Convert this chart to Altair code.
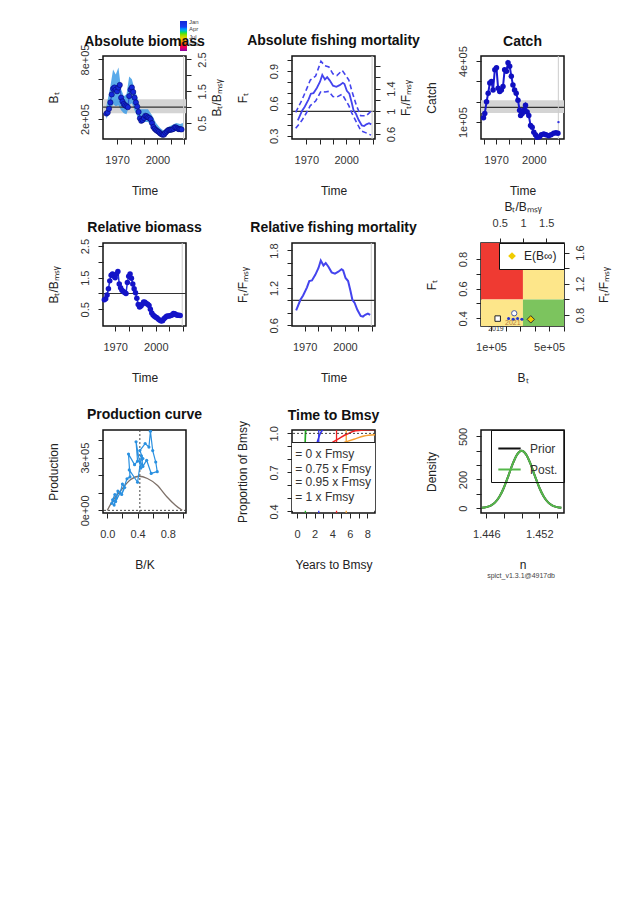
import altair as alt
import pandas as pd

FONT = "Liberation Sans"
W, H = 83, 83

# ---------------- data ----------------
# relative biomass B/Bmsy (annual estimates)
years_b = list(range(1962, 2019))
bbmsy = [0.80, 0.83, 0.95, 1.15, 1.40, 1.58, 1.62, 1.55, 1.50, 1.62,
         1.70, 1.30, 1.18, 1.10, 1.06, 1.03, 1.00, 1.35, 1.55, 1.62,
         1.48, 1.30, 1.15, 1.02, 0.85, 0.65, 0.57, 0.60, 0.66, 0.73,
         0.72, 0.68, 0.66, 0.62, 0.50, 0.38, 0.32, 0.28, 0.25, 0.22,
         0.18, 0.15, 0.13, 0.14, 0.20, 0.24, 0.28, 0.29, 0.29, 0.30,
         0.32, 0.37, 0.36, 0.33, 0.31, 0.31, 0.30]
season = [1.0] * len(years_b)          # all index observations in January

# absolute biomass confidence region
years_ci = [1962, 1965, 1967, 1969, 1971, 1973, 1975, 1977, 1979, 1981, 1983, 1985,
            1987, 1990, 1993, 1996, 1999, 2002, 2005, 2008, 2011, 2014, 2017, 2019]
ci_lo = [200000, 290000, 350000, 330000, 340000, 290000, 260000, 250000, 340000, 360000,
         290000, 230000, 160000, 170000, 170000, 120000, 70000, 40000, 30000, 60000,
         70000, 80000, 70000, 70000]
ci_hi = [330000, 530000, 700000, 650000, 720000, 500000, 430000, 450000, 630000, 600000,
         500000, 420000, 300000, 300000, 300000, 240000, 160000, 110000, 80000, 120000,
         140000, 160000, 150000, 160000]
bmsy_abs = [320000]
bmsy_lo = [260000]
bmsy_hi = [400000]
end_year = [2019.5]

# relative fishing mortality F/Fmsy
years_f = [1963.6, 1966.8, 1968.8, 1971.7, 1973.4, 1975.4, 1977.9, 1980.3, 1982.0, 1984.0,
           1985.7, 1987.7, 1990.1, 1992.6, 1995.1, 1997.5, 1998.7, 2000.5, 2002.4, 2004.2,
           2005.6, 2007.3, 2009.3, 2011.8, 2013.5, 2015.2, 2017.2, 2018.9]
ffmsy = [0.84, 1.01, 1.08, 1.21, 1.31, 1.32, 1.41, 1.52, 1.64, 1.56,
         1.60, 1.54, 1.45, 1.43, 1.46, 1.50, 1.48, 1.36, 1.31, 1.15,
         1.01, 0.96, 0.85, 0.75, 0.74, 0.77, 0.79, 0.77]
years_fci = [1962.0, 1966.7, 1970.0, 1973.0, 1977.0, 1981.0, 1984.0, 1987.0, 1990.0,
             1993.0, 1997.0, 2000.0, 2002.0, 2004.0, 2007.7, 2011.0, 2015.0, 2018.7]
f_up = [0.98, 1.20, 1.38, 1.55, 1.62, 1.88, 1.80, 1.78, 1.66, 1.63, 1.72, 1.62, 1.55,
        1.38, 1.10, 0.92, 0.92, 1.00]
f_lo = [0.70, 0.84, 0.97, 1.10, 1.18, 1.35, 1.34, 1.35, 1.26, 1.25, 1.30, 1.18, 1.10,
        0.98, 0.81, 0.66, 0.62, 0.58]
fmsy_abs = [0.527]

# catch
years_c = [1960.0, 1961.0, 1962.4, 1963.7, 1965.0, 1966.3, 1967.6, 1969.0, 1970.3, 1971.6,
           1972.9, 1974.2, 1975.5, 1976.8, 1978.2, 1979.5, 1980.8, 1982.1, 1983.4, 1984.7,
           1986.0, 1987.4, 1988.7, 1989.5, 1990.8, 1992.1, 1993.4, 1994.7, 1996.0, 1997.4,
           1998.7, 2000.0, 2001.3, 2002.6, 2004.5, 2006.0, 2007.9, 2009.7, 2011.8, 2013.7,
           2015.8, 2017.6, 2019.2]
catch = [122000, 142000, 200000, 242000, 292000, 300000, 258000, 358000, 367000, 267000,
         250000, 258000, 275000, 358000, 350000, 392000, 375000, 325000, 283000, 258000,
         242000, 208000, 158000, 133000, 142000, 158000, 183000, 150000, 133000, 83000,
         75000, 50000, 38000, 25000, 28000, 38000, 42000, 38000, 33000, 38000,
         45000, 48000, 45000]
msy = [172000]
msy_lo = [145000]
msy_hi = [208000]
pred_year = [2019.6]
pred_catch = [100000]

# Kobe plot
quad_b_lo = [0, 1, 0, 1]
quad_b_hi = [1, 5, 1, 5]
quad_f_lo = [1, 1, 0, 0]
quad_f_hi = [5, 5, 1, 1]
quad_col = ["#ef3a32", "#fde68a", "#fde68a", "#7cc45e"]
kobe_b = [221000, 253000, 283000, 313000]
kobe_f = [0.398, 0.393, 0.398, 0.393]
kobe_sq_b, kobe_sq_f = [146000], [0.398]
kobe_ci_b, kobe_ci_f = [260000], [0.434]
kobe_eb_b, kobe_eb_f = [374000], [0.393]
kobe_txt = ["2019", "2021"]
kobe_txt_b = [134000, 250000]
kobe_txt_f = [0.330, 0.366]

# production curve
pc_bk = [0.0, 0.05, 0.18, 0.31, 0.42, 0.53, 0.66, 0.79, 0.90, 0.99]
pc_p = [0, 40000, 114000, 175000, 194000, 181000, 143000, 76000, 29000, 0]
traj_bk = [0.07, 0.10, 0.06, 0.12, 0.09, 0.14, 0.11, 0.17, 0.20, 0.23, 0.19, 0.26, 0.30,
           0.28, 0.36, 0.40, 0.38, 0.44, 0.47, 0.43, 0.50, 0.55, 0.57, 0.60, 0.64, 0.66,
           0.58, 0.52, 0.47, 0.45, 0.40, 0.29]
traj_p = [60000, 90000, 40000, 70000, 30000, 110000, 50000, 100000, 150000, 130000,
          90000, 180000, 190000, 320000, 260000, 280000, 390000, 240000, 295000, 340000,
          380000, 360000, 450000, 340000, 275000, 220000, 210000, 285000, 250000, 310000,
          160000, 230000]
bmsy_k = [0.43]
zero_p = [0]

# time to Bmsy
tb_names = ["0 x Fmsy", "0.75 x Fmsy", "0.95 x Fmsy", "1 x Fmsy"]
tb_colors = ["#22aa22", "#3333ee", "#ee2222", "#f5a030"]
tb_reach = [0.95, 2.47, 4.49, 5.59]
tb_curve_x = {
    "0 x Fmsy": [0.93, 0.96, 1.0],
    "0.75 x Fmsy": [2.28, 2.45, 2.65, 2.95],
    "0.95 x Fmsy": [4.0, 4.76, 5.7, 6.65, 8.9],
    "1 x Fmsy": [5.33, 6.46, 7.6, 8.9],
}
tb_curve_y = {
    "0 x Fmsy": [0.93, 0.98, 1.03],
    "0.75 x Fmsy": [0.93, 0.965, 1.0, 1.03],
    "0.95 x Fmsy": [0.93, 0.96, 0.995, 1.02, 1.03],
    "1 x Fmsy": [0.93, 0.955, 0.98, 0.99],
}
tb_leg_text = ["= 0 x Fmsy", "= 0.75 x Fmsy", "= 0.95 x Fmsy", "= 1 x Fmsy"]
tb_leg_y = [0.845, 0.727, 0.624, 0.508]
tb_leg_x = [-0.2]
tb_box = [0.405, 0.93]
tb_one = [1.0]

# prior / posterior of n
n_x = [1.4455, 1.4460, 1.4465, 1.4470, 1.4475, 1.4480, 1.4485, 1.4490, 1.4495, 1.4500,
       1.4505, 1.4510, 1.4515, 1.4520, 1.4525, 1.4530, 1.4535, 1.4540, 1.4545]
dens_prior = [2, 7, 18, 40, 81, 144, 225, 310, 375, 400, 375, 310, 225, 144, 81, 40, 18, 7, 2]
dens_post = [2, 7, 18, 40, 81, 144, 225, 310, 375, 400, 375, 310, 225, 144, 81, 40, 18, 7, 2]


# ---------------- helpers ----------------
def lab_expr(pairs):
    e = "''"
    for v, t in reversed(pairs):
        tol = max(abs(v), 1.0) * 1e-7
        e = f"abs(datum.value - ({v!r})) < {tol} ? '{t}' : ({e})"
    return e


def ax_bottom(title, ticks, pairs):
    return alt.Axis(title=title, orient="bottom", values=ticks, labelExpr=lab_expr(pairs),
                    labelPadding=10, titlePadding=20, labelAngle=0, labelOverlap=False,
                    labelFlush=False)


def ax_top(title, ticks, pairs):
    return alt.Axis(title=title, orient="top", values=ticks, labelExpr=lab_expr(pairs),
                    labelPadding=10, titlePadding=4, labelAngle=0, labelOverlap=False,
                    labelFlush=False)


def ax_left(title, ticks, pairs):
    return alt.Axis(title=title, orient="left", values=ticks, labelExpr=lab_expr(pairs),
                    labelAngle=270, labelAlign="center", labelBaseline="bottom",
                    labelPadding=8, titlePadding=19, labelOverlap=False, labelFlush=False)


def ax_right(title, ticks, pairs, tpad=4):
    return alt.Axis(title=title, orient="right", values=ticks, labelExpr=lab_expr(pairs),
                    labelAngle=270, labelAlign="center", labelBaseline="top",
                    labelPadding=5, titlePadding=tpad, titleAngle=270, titleBaseline="top",
                    labelOverlap=False, labelFlush=False)


def lin(domain):
    return alt.Scale(domain=domain, nice=False, zero=False)


def ttl(text, dy=0):
    return alt.TitleParams(text, anchor="middle", offset=8, frame="group", dy=dy)


t_ticks = [1970, 1980, 1990, 2000, 2010, 2020]
t_pairs = [(1970, "1970"), (2000, "2000")]
B_T = "Bₜ"
F_T = "Fₜ"
B_REL = "Bₜ/Bₘₛᵧ"
F_REL = "Fₜ/Fₘₛᵧ"

# ---------------- panel 1: absolute biomass ----------------
df_b = pd.DataFrame({"year": years_b, "rel": bbmsy, "season": season})
df_ci = pd.DataFrame({"year": years_ci, "lo": ci_lo, "hi": ci_hi})
df_bm = pd.DataFrame({"b": bmsy_abs, "lo": bmsy_lo, "hi": bmsy_hi})
df_end = pd.DataFrame({"year": end_year})

x1 = alt.X("year:Q", scale=lin([1959.5, 2021.3]), axis=ax_bottom("Time", t_ticks, t_pairs))
y1s = lin([0, 835000])
y1ax = ax_left(B_T, [200000, 400000, 600000, 800000], [(200000, "2e+05"), (800000, "8e+05")])
left1 = alt.layer(
    alt.Chart(df_bm).mark_rect(color="#d4d4d4").encode(y=alt.Y("lo:Q", scale=y1s, axis=y1ax), y2="hi:Q"),
    alt.Chart(df_ci).mark_area(color="#3d9be6", opacity=0.85).encode(x=x1, y=alt.Y("lo:Q", scale=y1s, axis=y1ax), y2="hi:Q"),
    alt.Chart(df_bm).mark_rule(color="#333", strokeWidth=1.2).encode(y=alt.Y("b:Q", scale=y1s, axis=y1ax)),
    alt.Chart(df_end).mark_rule(color="#cccccc").encode(x=x1),
)
y1r = alt.Y("rel:Q", scale=lin([0, 2.61]),
            axis=ax_right(B_REL, [0.5, 1, 1.5, 2, 2.5], [(0.5, "0.5"), (1.5, "1.5"), (2.5, "2.5")]))
season_scale = alt.Scale(domain=[0, 1],
                         range=["#8000a0", "#ff1a1a", "#ffcc00", "#30e030", "#1a40f0", "#1428d8"])
right1 = alt.layer(
    alt.Chart(df_b).mark_line(color="#2a55d8", strokeWidth=1.2).encode(x=x1, y=y1r),
    alt.Chart(df_b).mark_circle(size=28, opacity=1, stroke="#000060", strokeWidth=0.5).encode(
        x=x1, y=y1r,
        color=alt.Color("season:Q", scale=season_scale,
                        legend=alt.Legend(title=None, orient="none", legendX=77, legendY=-35,
                                          direction="vertical", gradientLength=30,
                                          gradientThickness=7, values=[0.97, 0.72, 0.47, 0.22],
                                          labelExpr=lab_expr([(0.97, "Jan"), (0.72, "Apr"), (0.47, "Jul"), (0.22, "Oct")]),
                                          labelFontSize=6, labelColor="#444", labelOffset=2,
                                          labelOverlap=False, gradientStrokeWidth=0))),
)
p1 = alt.layer(left1, right1).resolve_scale(y="independent").properties(
    width=W, height=H, title=ttl("Absolute biomass", dy=36))

# ---------------- panel 2: absolute fishing mortality ----------------
df_f = pd.DataFrame({"year": years_f, "rel": ffmsy})
df_fci = pd.DataFrame({"year": years_fci, "up": f_up, "lo": f_lo})
df_fm = pd.DataFrame({"f": fmsy_abs})
x2 = alt.X("year:Q", scale=lin([1959.2, 2021.7]), axis=ax_bottom("Time", t_ticks, t_pairs))
left2 = alt.layer(
    alt.Chart(df_fm).mark_rule(color="#333", strokeWidth=1.2).encode(
        y=alt.Y("f:Q", scale=lin([0.27, 1.04]),
                axis=ax_left(F_T, [0.3, 0.4, 0.5, 0.6, 0.7, 0.8, 0.9, 1.0],
                             [(0.3, "0.3"), (0.6, "0.6"), (0.9, "0.9")]))),
    alt.Chart(df_end).mark_rule(color="#cccccc").encode(x=x2),
)
y2s = lin([0.512, 1.973])
y2ax = ax_right(F_REL, [0.6, 0.8, 1.0, 1.2, 1.4, 1.6, 1.8], [(0.6, "0.6"), (1.0, "1"), (1.4, "1.4")])
right2 = alt.layer(
    alt.Chart(df_fci).mark_line(color="#4444ee", strokeWidth=1.6, strokeDash=[5, 3]).encode(
        x=x2, y=alt.Y("up:Q", scale=y2s, axis=y2ax)),
    alt.Chart(df_fci).mark_line(color="#4444ee", strokeWidth=1.6, strokeDash=[5, 3]).encode(
        x=x2, y=alt.Y("lo:Q", scale=y2s, axis=y2ax)),
    alt.Chart(df_f).mark_line(color="#4444ee", strokeWidth=1.8).encode(
        x=x2, y=alt.Y("rel:Q", scale=y2s, axis=y2ax)),
)
p2 = alt.layer(left2, right2).resolve_scale(y="independent").properties(
    width=W, height=H, title=ttl("Absolute fishing mortality"))

# ---------------- panel 3: catch ----------------
df_c = pd.DataFrame({"year": years_c, "c": catch})
df_msy = pd.DataFrame({"m": msy, "lo": msy_lo, "hi": msy_hi})
df_pred = pd.DataFrame({"year": pred_year, "c": pred_catch})
x3 = alt.X("year:Q", scale=lin([1958, 2024]), axis=ax_bottom("Time", [1960] + t_ticks, t_pairs))
y3s = lin([17000, 425000])
y3ax = ax_left("Catch", [100000, 200000, 300000, 400000], [(100000, "1e+05"), (400000, "4e+05")])
p3 = alt.layer(
    alt.Chart(df_msy).mark_rect(color="#d4d4d4").encode(y=alt.Y("lo:Q", scale=y3s, axis=y3ax), y2="hi:Q"),
    alt.Chart(df_msy).mark_rule(color="#333", strokeWidth=1.2).encode(y=alt.Y("m:Q", scale=y3s, axis=y3ax)),
    alt.Chart(df_end).mark_rule(color="#cccccc").encode(x=x3),
    alt.Chart(df_c).mark_line(color="#1a1ad0", strokeWidth=2).encode(x=x3, y=alt.Y("c:Q", scale=y3s, axis=y3ax)),
    alt.Chart(df_c).mark_circle(size=30, color="#1010c0", opacity=1).encode(x=x3, y=alt.Y("c:Q", scale=y3s, axis=y3ax)),
    alt.Chart(df_pred).mark_circle(size=6, color="#3030e0", opacity=1).encode(x=x3, y=alt.Y("c:Q", scale=y3s, axis=y3ax)),
).properties(width=W, height=H, title=ttl("Catch", dy=11))

# ---------------- panel 4: relative biomass ----------------
df_one = pd.DataFrame({"v": [1.0]})
x4 = alt.X("year:Q", scale=lin([1961.0, 2022.3]), axis=ax_bottom("Time", t_ticks, t_pairs))
y4s = lin([-0.03, 2.6])
y4ax = ax_left(B_REL, [0.5, 1.0, 1.5, 2.0, 2.5], [(0.5, "0.5"), (1.5, "1.5"), (2.5, "2.5")])
p4 = alt.layer(
    alt.Chart(df_end).mark_rule(color="#cccccc").encode(x=x4),
    alt.Chart(df_one).mark_rule(color="#333", strokeWidth=1.2).encode(y=alt.Y("v:Q", scale=y4s, axis=y4ax)),
    alt.Chart(df_b).mark_line(color="#2030d8", strokeWidth=1.5).encode(x=x4, y=alt.Y("rel:Q", scale=y4s, axis=y4ax)),
    alt.Chart(df_b).mark_circle(size=30, color="#1414c8", opacity=1).encode(x=x4, y=alt.Y("rel:Q", scale=y4s, axis=y4ax)),
).properties(width=W, height=H, title=ttl("Relative biomass", dy=4))

# ---------------- panel 5: relative fishing mortality ----------------
x5 = alt.X("year:Q", scale=lin([1960.5, 2022.5]), axis=ax_bottom("Time", t_ticks, t_pairs))
y5s = lin([0.59, 1.92])
y5ax = ax_left(F_REL, [0.6, 0.8, 1.0, 1.2, 1.4, 1.6, 1.8], [(0.6, "0.6"), (1.2, "1.2"), (1.8, "1.8")])
df_end5 = pd.DataFrame({"year": [2019.7]})
p5 = alt.layer(
    alt.Chart(df_end5).mark_rule(color="#cccccc").encode(x=x5),
    alt.Chart(df_one).mark_rule(color="#333", strokeWidth=1.2).encode(y=alt.Y("v:Q", scale=y5s, axis=y5ax)),
    alt.Chart(df_f).mark_line(color="#4444ee", strokeWidth=2).encode(x=x5, y=alt.Y("rel:Q", scale=y5s, axis=y5ax)),
).properties(width=W, height=H, title=ttl("Relative fishing mortality"))

# ---------------- panel 6: Kobe ----------------
df_q = pd.DataFrame({"b0": quad_b_lo, "b1": quad_b_hi, "f0": quad_f_lo, "f1": quad_f_hi, "col": quad_col})
quads = alt.Chart(df_q).mark_rect(clip=True).encode(
    x=alt.X("b0:Q", scale=lin([0.0969, 1.884]),
            axis=ax_top(B_REL, [0.5, 1.0, 1.5], [(0.5, "0.5"), (1.0, "1"), (1.5, "1.5")])),
    x2="b1:Q",
    y=alt.Y("f0:Q", scale=lin([0.660, 1.723]),
            axis=ax_right(F_REL, [0.8, 1.0, 1.2, 1.4, 1.6], [(0.8, "0.8"), (1.2, "1.2"), (1.6, "1.6")], tpad=13)),
    y2="f1:Q",
    color=alt.Color("col:N", scale=None),
)
x6 = alt.X("b:Q", scale=lin([31000, 603000]),
           axis=ax_bottom(B_T, [100000, 200000, 300000, 400000, 500000, 600000],
                          [(100000, "1e+05"), (500000, "5e+05")]))
y6s = lin([0.348, 0.908])
y6ax = ax_left(F_T, [0.4, 0.5, 0.6, 0.7, 0.8], [(0.4, "0.4"), (0.6, "0.6"), (0.8, "0.8")])
y6 = alt.Y("f:Q", scale=y6s, axis=y6ax)
df_k = pd.DataFrame({"b": kobe_b, "f": kobe_f})
df_sq = pd.DataFrame({"b": kobe_sq_b, "f": kobe_sq_f})
df_kc = pd.DataFrame({"b": kobe_ci_b, "f": kobe_ci_f})
df_eb = pd.DataFrame({"b": kobe_eb_b, "f": kobe_eb_f, "lab": ["E(B∞)"]})
df_kt = pd.DataFrame({"b": kobe_txt_b, "f": kobe_txt_f, "t": kobe_txt, "c": ["#333333", "#b07a40"]})
pts6 = alt.layer(
    alt.Chart(df_k).mark_line(color="#3344cc", strokeWidth=0.8, strokeDash=[1, 2]).encode(x=x6, y=y6),
    alt.Chart(df_k).mark_circle(size=9, color="#2233cc", opacity=1).encode(x=x6, y=y6),
    alt.Chart(df_sq).mark_square(size=30, fill="white", stroke="#222", strokeWidth=1, opacity=1).encode(x=x6, y=y6),
    alt.Chart(df_kc).mark_circle(size=28, fill="white", stroke="#4a5aa0", strokeWidth=1, opacity=1).encode(x=x6, y=y6),
    alt.Chart(df_kt).mark_text(fontSize=7, font=FONT).encode(x=x6, y=y6, text="t:N", color=alt.Color("c:N", scale=None)),
    alt.Chart(df_eb).mark_point(filled=True, size=55, fill="#f0cc00", stroke="#333", strokeWidth=1, opacity=1).encode(
        x=x6, y=y6,
        shape=alt.Shape("lab:N", scale=alt.Scale(range=["diamond"]),
                        legend=alt.Legend(title=None, orient="top-right", offset=0, fillColor="white",
                                          strokeColor="#111", padding=7, labelFontSize=12,
                                          labelColor="#222", symbolFillColor="#f0cc00",
                                          symbolStrokeColor="#333", symbolSize=60,
                                          symbolStrokeWidth=1, labelOffset=6))),
)
p6 = alt.layer(quads, pts6).resolve_scale(x="independent", y="independent").properties(width=W, height=H)

# ---------------- panel 7: production curve ----------------
df_pc = pd.DataFrame({"bk": pc_bk, "p": pc_p})
df_tr = pd.DataFrame({"bk": traj_bk, "p": traj_p, "i": list(range(len(traj_bk)))})
x7 = alt.X("bk:Q", scale=lin([-0.057, 1.04]),
           axis=ax_bottom("B/K", [0, 0.2, 0.4, 0.6, 0.8, 1.0], [(0, "0.0"), (0.4, "0.4"), (0.8, "0.8")]))
y7s = lin([-15000, 457000])
y7ax = ax_left("Production", [0, 100000, 200000, 300000, 400000], [(0, "0e+00"), (300000, "3e+05")])
p7 = alt.layer(
    alt.Chart(pd.DataFrame({"bk": bmsy_k})).mark_rule(color="#444", strokeDash=[2, 2]).encode(x=x7),
    alt.Chart(pd.DataFrame({"p": zero_p})).mark_rule(color="#444", strokeDash=[2, 2]).encode(y=alt.Y("p:Q", scale=y7s, axis=y7ax)),
    alt.Chart(df_pc).mark_line(color="#7d7068", strokeWidth=1.3, interpolate="monotone").encode(
        x=x7, y=alt.Y("p:Q", scale=y7s, axis=y7ax)),
    alt.Chart(df_tr).mark_line(color="#2a90e0", strokeWidth=1.2, clip=True).encode(
        x=x7, y=alt.Y("p:Q", scale=y7s, axis=y7ax), order="i:Q"),
    alt.Chart(df_tr).mark_circle(size=10, color="#2a90e0", opacity=1, clip=True).encode(
        x=x7, y=alt.Y("p:Q", scale=y7s, axis=y7ax)),
).properties(width=W, height=H, title=ttl("Production curve"))

# ---------------- panel 8: time to Bmsy ----------------
rows = []
for nm in tb_names:
    for xv, yv in zip(tb_curve_x[nm], tb_curve_y[nm]):
        rows.append({"t": xv, "p": yv, "g": nm})
df_tc = pd.DataFrame(rows)
df_tv = pd.DataFrame({"t": tb_reach, "g": tb_names})
df_tl = pd.DataFrame({"t": tb_leg_x * len(tb_leg_text), "p": tb_leg_y, "txt": tb_leg_text})
x8 = alt.X("t:Q", scale=lin([-0.57, 8.86]),
           axis=ax_bottom("Years to Bmsy", list(range(0, 9)),
                          [(0, "0"), (2, "2"), (4, "4"), (6, "6"), (8, "8")]))
y8s = lin([0.388, 1.026])
y8ax = ax_left("Proportion of Bmsy", [0.4, 0.5, 0.6, 0.7, 0.8, 0.9, 1.0],
               [(0.4, "0.4"), (0.7, "0.7"), (1.0, "1.0")])
col8 = alt.Color("g:N", scale=alt.Scale(domain=tb_names, range=tb_colors), legend=None)
p8 = alt.layer(
    alt.Chart(df_tv).mark_rule(strokeWidth=1.3).encode(x=x8, color=col8),
    alt.Chart(df_tc).mark_line(strokeWidth=1.5, clip=True, interpolate="monotone").encode(
        x=x8, y=alt.Y("p:Q", scale=y8s, axis=y8ax), color=col8),
    alt.Chart(pd.DataFrame({"lo": [tb_box[0]], "hi": [tb_box[1]]})).mark_rect(color="white").encode(
        y=alt.Y("lo:Q", scale=y8s, axis=y8ax), y2="hi:Q"),
    alt.Chart(pd.DataFrame({"p": [tb_box[1]]})).mark_rule(color="#222", strokeWidth=1.2).encode(
        y=alt.Y("p:Q", scale=y8s, axis=y8ax)),
    alt.Chart(pd.DataFrame({"p": tb_one})).mark_rule(color="#444", strokeDash=[2, 2]).encode(
        y=alt.Y("p:Q", scale=y8s, axis=y8ax)),
    alt.Chart(df_tl).mark_text(align="left", fontSize=12, font=FONT, color="#333").encode(
        x=x8, y=alt.Y("p:Q", scale=y8s, axis=y8ax), text="txt:N"),
).properties(width=W, height=H, title=ttl("Time to Bmsy", dy=11))

# ---------------- panel 9: prior / posterior ----------------
df_n = pd.DataFrame({
    "n": n_x + n_x,
    "d": dens_prior + dens_post,
    "k": ["Prior"] * len(n_x) + ["Post."] * len(n_x),
})
x9 = alt.X("n:Q", scale=lin([1.4454, 1.4548]),
           axis=ax_bottom("n", [1.446, 1.448, 1.450, 1.452, 1.454], [(1.446, "1.446"), (1.452, "1.452")]))
y9 = alt.Y("d:Q", scale=lin([-34, 545]),
           axis=ax_left("Density", [0, 100, 200, 300, 400, 500], [(0, "0"), (200, "200"), (500, "500")]))
p9 = alt.Chart(df_n).mark_line(strokeWidth=2, interpolate="monotone").encode(
    x=x9, y=y9,
    color=alt.Color("k:N", scale=alt.Scale(domain=["Prior", "Post."], range=["#111111", "#55b84a"]),
                    legend=alt.Legend(title=None, orient="top-right", offset=0,
                                      strokeColor="#111", padding=6, labelFontSize=12, labelColor="#333",
                                      symbolType="stroke", symbolSize=500, symbolStrokeWidth=2,
                                      rowPadding=2, labelOffset=8)),
    order=alt.Order("k:N", sort="descending"),
).properties(
    width=W, height=H,
    title=alt.TitleParams("spict_v1.3.1@4917db", orient="bottom", anchor="end", fontSize=7,
                          fontWeight="normal", color="#444", offset=2, frame="group", dx=-9),
)

chart = alt.concat(
    p1, p2, p3, p4, p5, p6, p7, p8, p9,
    columns=3,
    spacing={"row": 104, "column": 106},
    bounds="flush",
).resolve_scale(color="independent", shape="independent").resolve_legend(
    color="independent", shape="independent"
).properties(
    padding={"left": 38, "top": 12, "right": 5, "bottom": 5}
).configure(font=FONT).configure_view(
    stroke="#111", strokeWidth=1.5
).configure_axis(
    grid=False, domain=False, tickColor="#222", tickSize=5, tickWidth=1,
    labelFont=FONT, labelFontSize=11, labelColor="#333",
    titleFont=FONT, titleFontSize=12, titleFontWeight="normal", titleColor="#222",
).configure_title(font=FONT, fontSize=14, fontWeight="bold", color="#111").configure_legend(
    labelFont=FONT
)

chart.save("out.html", embed_options={"renderer": "svg", "actions": False})
